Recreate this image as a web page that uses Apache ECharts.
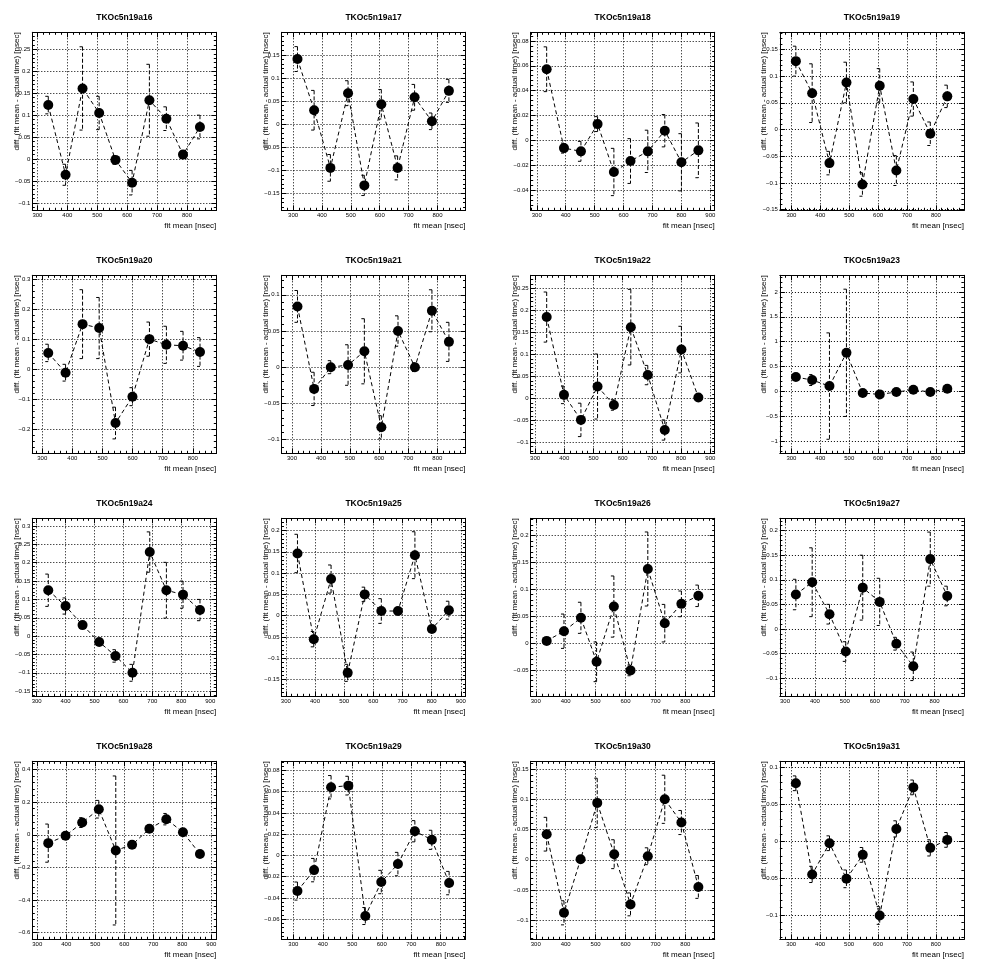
<!DOCTYPE html>
<html>
<head>
<meta charset="utf-8">
<script src="https://cdn.jsdelivr.net/npm/echarts@6/dist/echarts.min.js"></script>
<style>
  html, body { margin: 0; padding: 0; background: #fff; }
  #chart { width: 996px; height: 972px; }
</style>
</head>
<body>
<div id="chart"></div>
<script>
// channel names, one pad each (4 x 4)
const names = [
  "TKOc5n19a16", "TKOc5n19a17", "TKOc5n19a18", "TKOc5n19a19",
  "TKOc5n19a20", "TKOc5n19a21", "TKOc5n19a22", "TKOc5n19a23",
  "TKOc5n19a24", "TKOc5n19a25", "TKOc5n19a26", "TKOc5n19a27",
  "TKOc5n19a28", "TKOc5n19a29", "TKOc5n19a30", "TKOc5n19a31"
];

// axis ranges of each pad
const xMin = [283, 260, 279, 260, 267, 264, 285, 260, 285, 285, 283, 283, 283, 260, 283, 261];
const xMax = [898, 897, 915, 897, 878, 897, 915, 897, 921, 916, 898, 898, 917, 884, 898, 897];
const yMin = [-0.117, -0.187, -0.0562, -0.1514, -0.281, -0.119, -0.125, -1.245,
              -0.164, -0.189, -0.0993, -0.137, -0.641, -0.0789, -0.132, -0.133];
const yMax = [0.289, 0.199, 0.0869, 0.182, 0.313, 0.127, 0.280, 2.335,
              0.321, 0.2285, 0.2325, 0.225, 0.451, 0.0886, 0.1637, 0.1084];
const yStep = [0.05, 0.05, 0.02, 0.05, 0.1, 0.05, 0.05, 0.5,
               0.05, 0.05, 0.05, 0.05, 0.2, 0.02, 0.05, 0.05];
const xStep = 100;

// fit mean [nsec]
const fitMean = [
  [336.4, 394.2, 450.9, 506.5, 561.0, 616.6, 674.4, 731.1, 786.7, 843.4],
  [315.3, 372.9, 429.3, 490.4, 546.8, 605.6, 662.0, 720.8, 780.7, 839.5],
  [334.2, 394.0, 452.7, 510.2, 566.5, 624.0, 683.8, 742.5, 800.0, 858.6],
  [315.3, 371.7, 431.6, 490.4, 545.7, 605.6, 663.2, 722.0, 780.7, 839.5],
  [320.0, 377.5, 433.9, 489.1, 543.3, 599.6, 656.0, 712.3, 767.6, 823.9],
  [319.0, 376.2, 433.5, 493.0, 549.1, 607.5, 664.8, 723.1, 781.5, 840.0],
  [339.7, 398.9, 457.0, 513.9, 569.8, 627.8, 685.9, 744.0, 801.0, 859.1],
  [315.3, 371.7, 431.6, 490.4, 546.8, 605.6, 663.2, 722.0, 780.7, 839.5],
  [340.2, 400.0, 458.7, 516.2, 572.5, 631.2, 691.0, 748.5, 806.0, 864.6],
  [339.8, 395.7, 455.0, 512.0, 570.3, 627.3, 684.4, 742.5, 800.7, 859.0],
  [336.4, 394.2, 450.9, 503.2, 561.0, 616.6, 674.4, 731.1, 786.7, 843.4],
  [336.4, 390.9, 448.7, 503.2, 559.9, 616.6, 672.2, 728.9, 785.6, 842.3],
  [338.0, 397.6, 454.9, 512.2, 570.6, 626.8, 686.4, 744.8, 802.1, 860.6],
  [314.1, 370.5, 428.1, 486.7, 544.3, 598.4, 654.8, 712.3, 769.9, 828.5],
  [336.4, 394.2, 449.8, 505.4, 562.1, 616.6, 674.4, 731.1, 786.7, 843.4],
  [316.2, 372.6, 432.4, 491.0, 547.4, 606.0, 663.5, 722.2, 780.8, 839.5]
];

// diff. (fit mean - actual time) [nsec]
const diff = [
  [0.123, -0.036, 0.161, 0.105, -0.002, -0.054, 0.134, 0.092, 0.010, 0.073],
  [0.141, 0.030, -0.095, 0.067, -0.133, 0.043, -0.095, 0.058, 0.006, 0.072],
  [0.0572, -0.0062, -0.0088, 0.0131, -0.0254, -0.0166, -0.0088, 0.0078, -0.0176, -0.0080],
  [0.128, 0.068, -0.063, 0.088, -0.103, 0.082, -0.077, 0.057, -0.008, 0.062],
  [0.054, -0.012, 0.150, 0.137, -0.180, -0.092, 0.100, 0.081, 0.078, 0.057],
  [0.084, -0.030, 0.000, 0.003, 0.022, -0.083, 0.050, 0.000, 0.078, 0.035],
  [0.185, 0.008, -0.049, 0.027, -0.015, 0.162, 0.053, -0.072, 0.111, 0.002],
  [0.288, 0.228, 0.107, 0.776, -0.033, -0.060, -0.013, 0.033, -0.013, 0.054],
  [0.125, 0.082, 0.030, -0.016, -0.054, -0.100, 0.229, 0.125, 0.113, 0.071],
  [0.146, -0.055, 0.086, -0.134, 0.050, 0.011, 0.011, 0.142, -0.031, 0.013],
  [0.004, 0.022, 0.047, -0.035, 0.068, -0.051, 0.138, 0.037, 0.073, 0.088],
  [0.070, 0.095, 0.030, -0.046, 0.084, 0.055, -0.030, -0.076, 0.142, 0.067],
  [-0.051, -0.006, 0.075, 0.157, -0.096, -0.061, 0.037, 0.096, 0.016, -0.118],
  [-0.0335, -0.0138, 0.0642, 0.0657, -0.057, -0.025, -0.0081, 0.0228, 0.0147, -0.026],
  [0.0426, -0.088, 0.001, 0.0946, 0.0094, -0.074, 0.006, 0.1006, 0.062, -0.045],
  [0.0786, -0.045, -0.0027, -0.051, -0.0185, -0.1007, 0.0167, 0.073, -0.009, 0.0018]
];

// errors on diff
const diffErr = [
  [0.020, 0.024, 0.095, 0.038, 0.010, 0.028, 0.082, 0.027, 0.008, 0.027],
  [0.027, 0.043, 0.029, 0.027, 0.022, 0.032, 0.026, 0.028, 0.018, 0.025],
  [0.018, 0.004, 0.008, 0.006, 0.019, 0.018, 0.017, 0.013, 0.023, 0.022],
  [0.028, 0.055, 0.022, 0.038, 0.022, 0.032, 0.028, 0.032, 0.022, 0.021],
  [0.029, 0.028, 0.115, 0.102, 0.053, 0.030, 0.057, 0.062, 0.048, 0.048],
  [0.022, 0.023, 0.009, 0.028, 0.045, 0.016, 0.021, 0.006, 0.029, 0.027],
  [0.057, 0.020, 0.038, 0.074, 0.012, 0.086, 0.022, 0.023, 0.053, 0.006],
  [0.05, 0.11, 1.07, 1.28, 0.03, 0.03, 0.03, 0.03, 0.03, 0.03],
  [0.044, 0.022, 0.008, 0.006, 0.017, 0.023, 0.055, 0.076, 0.037, 0.029],
  [0.045, 0.018, 0.033, 0.020, 0.017, 0.029, 0.006, 0.055, 0.008, 0.021],
  [0.005, 0.032, 0.029, 0.037, 0.057, 0.010, 0.069, 0.035, 0.024, 0.020],
  [0.031, 0.070, 0.020, 0.020, 0.066, 0.048, 0.013, 0.029, 0.055, 0.020],
  [0.117, 0.02, 0.03, 0.054, 0.457, 0.02, 0.02, 0.035, 0.02, 0.02],
  [0.0085, 0.011, 0.011, 0.0088, 0.008, 0.011, 0.011, 0.010, 0.009, 0.011],
  [0.028, 0.020, 0.005, 0.041, 0.024, 0.019, 0.014, 0.040, 0.020, 0.019],
  [0.010, 0.011, 0.010, 0.012, 0.010, 0.012, 0.011, 0.010, 0.011, 0.010]
];

const font = "'Liberation Sans', Arial, Helvetica, sans-serif";
const xTitle = "fit mean [nsec]";
const yTitle = "diff. (fit mean - actual time) [nsec]";

// only label the round ticks, ROOT style minus sign
const tickFormatter = function(step) {
  return function(v) {
    const k = v / step;
    if (Math.abs(k - Math.round(k)) > 1e-6) return "";
    const s = String(Math.abs(+v.toPrecision(6)));
    return v < 0 ? "\u2212" + s : s;
  };
};

const makeAxis = function(gi, pos, min, max, step, withLabels, withGrid) {
  return {
    type: "value",
    gridIndex: gi,
    position: pos,
    min: min,
    max: max,
    splitNumber: Math.round((max - min) / step),
    axisLine: { show: true, onZero: false, lineStyle: { color: "#000", width: 1 } },
    axisTick: { show: true, inside: true, length: 5, lineStyle: { color: "#000", width: 1 } },
    minorTick: { show: true, splitNumber: 5, length: 2.5, lineStyle: { color: "#000", width: 1 } },
    axisLabel: withLabels ? {
      show: true, margin: 2, fontSize: 6, color: "#000", fontFamily: font,
      formatter: tickFormatter(step)
    } : { show: false },
    splitLine: withGrid ? { show: true, lineStyle: { color: "#000", width: 1, type: [1, 2] } } : { show: false },
    minorSplitLine: { show: false }
  };
};

const grids = [];
const xAxes = [];
const yAxes = [];
const series = [];
const texts = [];

names.forEach(function(name, i) {
  const c = i % 4;
  const r = Math.floor(i / 4);
  const left = 32.3 + c * 249.2;
  const top = 32.3 + r * 243;
  const w = 184;
  const h = 178;

  grids.push({ left: left, top: top, width: w, height: h, containLabel: false, outerBoundsMode: "none" });

  const xi = xAxes.length;
  const yi = yAxes.length;
  xAxes.push(makeAxis(i, "bottom", xMin[i], xMax[i], xStep, true, true));
  xAxes.push(makeAxis(i, "top", xMin[i], xMax[i], xStep, false, false));
  yAxes.push(makeAxis(i, "left", yMin[i], yMax[i], yStep[i], true, true));
  yAxes.push(makeAxis(i, "right", yMin[i], yMax[i], yStep[i], false, false));

  const xs = fitMean[i];
  const ys = diff[i];
  const es = diffErr[i];

  series.push({
    type: "custom",
    xAxisIndex: xi,
    yAxisIndex: yi,
    silent: true,
    z: 2,
    data: xs.map(function(x, k) { return [x, ys[k], es[k]]; }),
    renderItem: function(params, api) {
      const x = api.value(0), y = api.value(1), e = api.value(2);
      const p0 = api.coord([x, y + e]);
      const p1 = api.coord([x, y - e]);
      const dashed = { stroke: "#000", lineWidth: 1, lineDash: [4, 2], fill: null };
      const solid = { stroke: "#000", lineWidth: 1, fill: null };
      return {
        type: "group",
        children: [
          { type: "line", shape: { x1: p0[0], y1: p0[1], x2: p1[0], y2: p1[1] }, style: dashed },
          { type: "line", shape: { x1: p0[0] - 3, y1: p0[1], x2: p0[0], y2: p0[1] }, style: solid },
          { type: "line", shape: { x1: p1[0] - 3, y1: p1[1], x2: p1[0], y2: p1[1] }, style: solid }
        ]
      };
    }
  });

  series.push({
    type: "line",
    xAxisIndex: xi,
    yAxisIndex: yi,
    silent: true,
    z: 3,
    data: xs.map(function(x, k) { return [x, ys[k]]; }),
    symbol: "circle",
    symbolSize: 10,
    showSymbol: true,
    lineStyle: { color: "#000", width: 1, type: [4, 3] },
    itemStyle: { color: "#000" }
  });

  texts.push({
    type: "text", x: left + w / 2, y: top - 15,
    style: { text: name, fill: "#000", fontFamily: font, fontSize: 8.5, fontWeight: "bold", align: "center", verticalAlign: "middle" }
  });
  texts.push({
    type: "text", x: left + w, y: top + h + 15.5,
    style: { text: xTitle, fill: "#000", fontFamily: font, fontSize: 8, align: "right", verticalAlign: "middle" }
  });
  texts.push({
    type: "text", x: left - 16, y: top, rotation: Math.PI / 2,
    style: { text: yTitle, fill: "#000", fontFamily: font, fontSize: 8, align: "right", verticalAlign: "middle" }
  });
});

const myChart = echarts.init(document.getElementById("chart"));
myChart.setOption({
  animation: false,
  backgroundColor: "#fff",
  grid: grids,
  xAxis: xAxes,
  yAxis: yAxes,
  series: series,
  graphic: texts
});
</script>
</body>
</html>
